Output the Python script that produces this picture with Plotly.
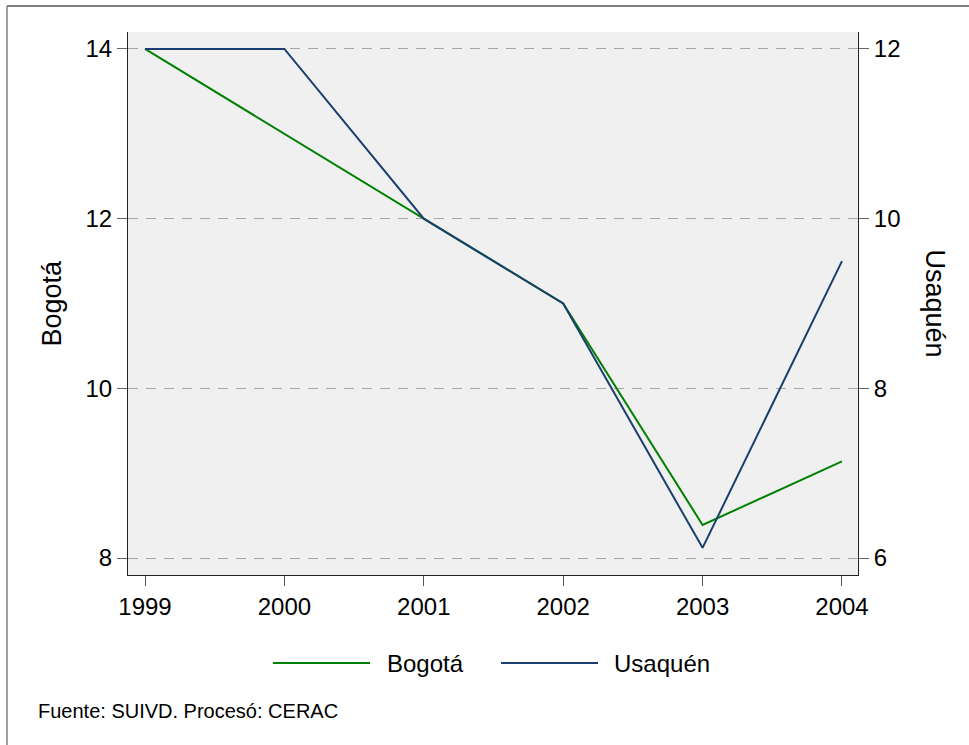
import plotly.graph_objects as go

years = [1999, 2000, 2001, 2002, 2003, 2004]
bogota = [14.0, 13.0, 12.0, 11.0, 8.39, 9.14]
usaquen = [12.0, 12.0, 10.0, 9.0, 6.12, 9.50]

left_ticks = [8, 10, 12, 14]
right_ticks = [6, 8, 10, 12]

GREEN = "#008000"
NAVY = "#1a3f6f"
FONT = "Liberation Sans, Arial, sans-serif"

W, H = 969, 745
L, R, T, B = 128, 111, 32, 170
PW, PH = W - L - R, H - T - B


def px(x):
    return (x - L) / PW


def py(y):
    return (H - B - y) / PH


fig = go.Figure()
fig.add_trace(go.Scatter(x=years, y=bogota, mode="lines", name="Bogotá",
                         line=dict(color=GREEN, width=2), yaxis="y"))
fig.add_trace(go.Scatter(x=years, y=usaquen, mode="lines", name="Usaquén",
                         line=dict(color=NAVY, width=2), yaxis="y2"))

shapes = [
    # outer frame (top and left)
    dict(type="line", xref="paper", yref="paper", x0=px(7), x1=px(W), y0=py(6), y1=py(6),
         line=dict(color="#000000", width=1.2)),
    dict(type="line", xref="paper", yref="paper", x0=px(7), x1=px(7), y0=py(6), y1=py(H),
         line=dict(color="#808080", width=1.5)),
    # legend keys
    dict(type="line", xref="paper", yref="paper", x0=px(273), x1=px(370), y0=py(663), y1=py(663),
         line=dict(color=GREEN, width=2)),
    dict(type="line", xref="paper", yref="paper", x0=px(501), x1=px(598), y0=py(663), y1=py(663),
         line=dict(color=NAVY, width=2)),
]

annotations = [
    dict(text="Bogotá", xref="paper", yref="paper", x=px(51), y=0.5, textangle=-90,
         showarrow=False, font=dict(size=27, color="black", family=FONT),
         xanchor="center", yanchor="middle"),
    dict(text="Usaquén", xref="paper", yref="paper", x=px(935), y=0.5, textangle=90,
         showarrow=False, font=dict(size=27, color="black", family=FONT),
         xanchor="center", yanchor="middle"),
    dict(text="Bogotá", xref="paper", yref="paper", x=px(385), y=py(663),
         showarrow=False, font=dict(size=24, color="black", family=FONT),
         xanchor="left", yanchor="middle"),
    dict(text="Usaquén", xref="paper", yref="paper", x=px(612), y=py(663),
         showarrow=False, font=dict(size=24, color="black", family=FONT),
         xanchor="left", yanchor="middle"),
    dict(text="Fuente: SUIVD. Procesó: CERAC", xref="paper", yref="paper", x=px(36), y=py(711),
         showarrow=False, font=dict(size=20, color="black", family=FONT),
         xanchor="left", yanchor="middle"),
]

fig.update_layout(
    width=W, height=H,
    margin=dict(l=L, r=R, t=T, b=B, pad=0),
    paper_bgcolor="white",
    plot_bgcolor="#f0f0f0",
    showlegend=False,
    font=dict(family=FONT, size=24, color="black"),
    xaxis=dict(
        range=[1998.878, 2004.115], tickvals=years, ticktext=[str(y) for y in years],
        showgrid=False, zeroline=False, showline=True, linecolor="#222222", linewidth=1,
        ticks="outside", ticklen=10, tickcolor="#555555", tickwidth=1,
        tickfont=dict(size=24, color="black"),
    ),
    yaxis=dict(
        range=[7.8, 14.2], tickvals=left_ticks,
        showgrid=True, gridcolor="#a6a6a6", gridwidth=1.2, griddash="10px,8px",
        zeroline=False, showline=True, linecolor="#222222", linewidth=1,
        ticks="outside", ticklen=10, tickcolor="#666666", tickwidth=1,
        tickfont=dict(size=24, color="black"),
    ),
    yaxis2=dict(
        range=[5.8, 12.2], tickvals=right_ticks, overlaying="y", side="right",
        showgrid=False, zeroline=False, showline=True, linecolor="#222222", linewidth=1,
        ticks="outside", ticklen=10, tickcolor="#666666", tickwidth=1,
        tickfont=dict(size=24, color="black"),
    ),
    shapes=shapes,
    annotations=annotations,
)

fig.write_html("out.html",
               config={"displayModeBar": False},
               post_script="document.body.style.margin='0';document.body.style.overflow='hidden';")
